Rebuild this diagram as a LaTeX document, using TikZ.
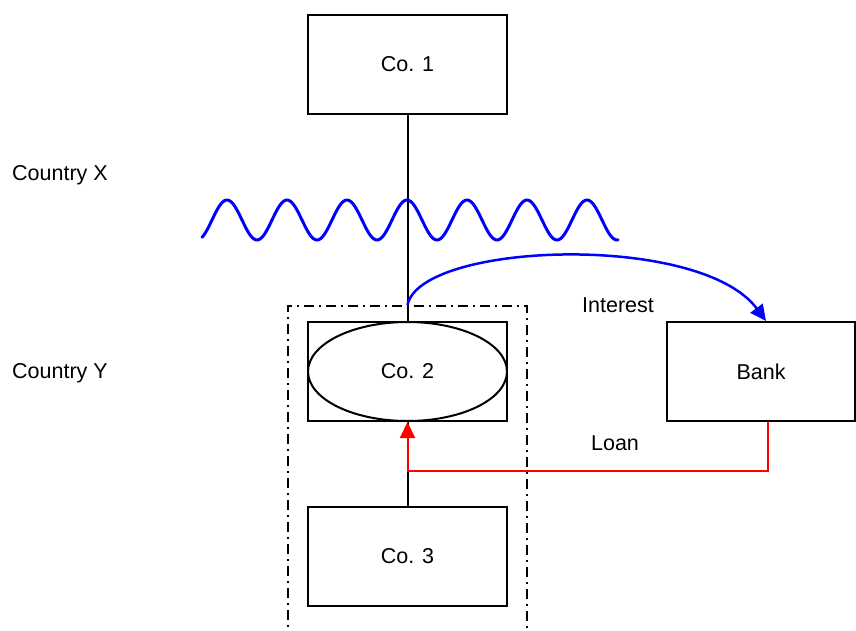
\documentclass[tikz,border=0pt]{standalone}
\usepackage{fontspec}
\setmainfont{Liberation Sans}
\usetikzlibrary{arrows.meta,shapes.geometric}
\begin{document}
\begin{tikzpicture}[x=1pt,y=-1pt,
  every node/.style={font=\fontsize{21.5}{25}\selectfont},
  box/.style={draw,line width=2pt,minimum width=199pt,minimum height=99pt,inner sep=0pt,fill=white},
  ell/.style={draw,ellipse,line width=2pt,minimum width=199pt,minimum height=99pt,inner sep=0pt},
  lbl/.style={inner sep=0pt},
  grpbox/.style={draw,line width=2pt,minimum width=239pt,minimum height=340pt,inner sep=0pt,
    dash pattern=on 10pt off 5pt on 2pt off 5pt},
  conn/.style={line width=2pt},
  arr/.style={-{Triangle[length=16pt,width=15pt]}}]
\useasboundingbox (0,0) rectangle (856,631);
\node[grpbox] (grp) at (407.5,476) {};
\node[box] (co1) at (407.5,64.5) {Co. 1};
\node[box] (co2box) at (407.5,371.5) {};
\node[ell] (co2) at (407.5,371.5) {Co. 2};
\node[box] (co3) at (407.5,556.5) {Co. 3};
\node[box,minimum width=188pt] (bank) at (761,371.5) {Bank};
\node[lbl,anchor=west] (cx) at (12,175) {Country X};
\node[lbl,anchor=west] (cy) at (12,373) {Country Y};
\node[lbl] (int) at (618,305) {Interest};
\node[lbl] (loan) at (615,443) {Loan};
\draw[conn] (co1.south) -- (co2box.north);
\draw[blue,line width=3pt,line cap=round] plot[domain=202:618,samples=240,smooth] (\x,{220-20*sin(6*(\x-212))});
\draw[conn] (co3.north) -- (co2box.south);
\draw[conn,red,arr] ([xshift=7pt]bank.south) -- ++(0,49) -| (co2box.south);
\draw[blue,line width=2.5pt,arr] (grp.north) .. controls +(13,-63) and +(-66,-89) .. ([xshift=5pt]bank.north);
\end{tikzpicture}
\end{document}
